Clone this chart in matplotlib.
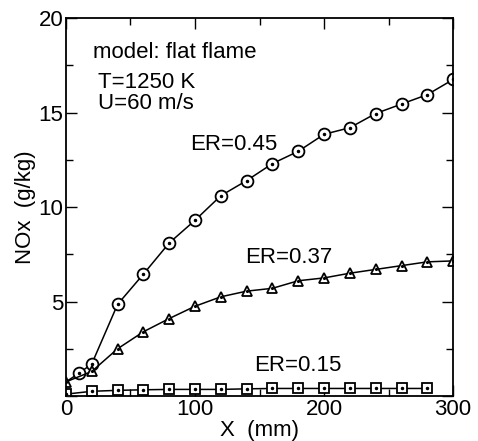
import matplotlib.pyplot as plt
import numpy as np

plt.rcParams['font.family'] = ['Liberation Sans', 'DejaVu Sans']

# ER = 0.45 (circles)
x_045 = [0, 10, 20, 40, 60, 80, 100, 120, 140, 160, 180, 200, 220, 240, 260, 280, 300]
y_045 = [0.75, 1.2, 1.7, 4.85, 6.45, 8.1, 9.3, 10.6, 11.4, 12.3, 12.95, 13.85, 14.2, 14.95, 15.45, 15.95, 16.75]

# ER = 0.37 (triangles)
x_037 = [0, 20, 40, 60, 80, 100, 120, 140, 160, 180, 200, 220, 240, 260, 280, 300]
y_037 = [0.75, 1.3, 2.5, 3.4, 4.1, 4.75, 5.25, 5.55, 5.7, 6.1, 6.25, 6.5, 6.7, 6.9, 7.1, 7.15]

# ER = 0.15 (squares)
x_015 = [0, 20, 40, 60, 80, 100, 120, 140, 160, 180, 200, 220, 240, 260, 280]
y_015 = [0.1, 0.25, 0.3, 0.33, 0.35, 0.35, 0.35, 0.38, 0.4, 0.4, 0.4, 0.4, 0.4, 0.4, 0.4]

x_ticks = [0, 100, 200, 300]
y_ticks = [0, 5, 10, 15, 20]
y_ticklabels = ['', '5', '10', '15', '20']

fig = plt.figure(figsize=(4.78, 4.41), dpi=100)
ax = fig.add_axes([0.138, 0.102, 0.810, 0.857])

ax.plot(x_045, y_045, color='black', lw=1.1, marker='o', ms=8.5, mfc='white',
        mec='black', mew=1.3, markevery=list(range(1, len(x_045))))
ax.plot(x_045[1:], y_045[1:], ls='none', marker='.', ms=3, color='black')
ax.plot(x_037, y_037, color='black', lw=1.1, marker='^', ms=7.5, mfc='white',
        mec='black', mew=1.3)
ax.plot(x_037, y_037, ls='none', marker='.', ms=2.5, color='black')
ax.plot(x_015, y_015, color='black', lw=1.1, marker='s', ms=6.5, mfc='white',
        mec='black', mew=1.3)
ax.plot(x_015, y_015, ls='none', marker='.', ms=3, color='black')

ax.set_xlim(0, 300)
ax.set_ylim(0, 20)
ax.set_xticks(x_ticks)
ax.set_xticks([50, 150, 250], minor=True)
ax.set_yticks(y_ticks)
ax.set_yticklabels(y_ticklabels)
ax.set_yticks(np.arange(2.5, 20, 5), minor=True)
ax.tick_params(which='both', direction='in', top=True, right=True, labelsize=16, pad=2)
ax.tick_params(which='major', length=8, width=1)
ax.tick_params(which='minor', length=5, width=1)
for s in ax.spines.values():
    s.set_linewidth(1.3)

ax.set_xlabel('X  (mm)', fontsize=16, labelpad=0)
ax.set_ylabel('NOx  (g/kg)', fontsize=16, labelpad=2)

ax.text(21, 18.2, 'model: flat flame', fontsize=16, va='center')
ax.text(25, 16.6, 'T=1250 K', fontsize=16, va='center')
ax.text(25, 15.5, 'U=60 m/s', fontsize=16, va='center')
ax.text(96, 13.3, 'ER=0.45', fontsize=16, va='center')
ax.text(139, 7.35, 'ER=0.37', fontsize=16, va='center')
ax.text(146, 1.6, 'ER=0.15', fontsize=16, va='center')

fig.savefig('out.png', dpi=100)
